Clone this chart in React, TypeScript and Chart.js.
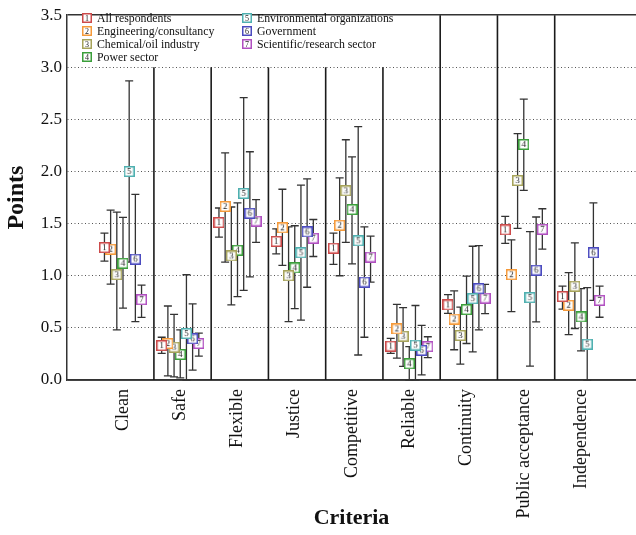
import React, { useEffect, useRef } from "react";
import { Chart, registerables } from "chart.js";

Chart.register(...registerables);

const criteria = ["Clean", "Safe", "Flexible", "Justice", "Competitive", "Reliable", "Continuity", "Public acceptance", "Independence"];
const seriesNames = ["All respondents", "Engineering/consultancy", "Chemical/oil industry", "Power sector", "Environmental organizations", "Government", "Scientific/research sector"];
const seriesColors = ["#cc4a4a", "#f59a3a", "#a6a35a", "#3a9e3a", "#4fb0b0", "#4b4bbf", "#b04fc0"];
const yTicks = [0, 0.5, 1, 1.5, 2, 2.5, 3, 3.5];

const allRespondents = [1.27, 0.33, 1.51, 1.33, 1.265, 0.325, 0.72, 1.44, 0.8];
const allRespondentsLow = [1.14, 0.255, 1.37, 1.21, 1.11, 0.255, 0.64, 1.31, 0.68];
const allRespondentsHigh = [1.41, 0.41, 1.65, 1.45, 1.41, 0.4, 0.82, 1.57, 0.9];

const engineering = [1.255, 0.35, 1.665, 1.46, 1.485, 0.49, 0.585, 1.01, 0.717];
const engineeringLow = [0.92, 0.04, 1.13, 1.1, 1.0, 0.21, 0.29, 0.656, 0.436];
const engineeringHigh = [1.63, 0.71, 2.18, 1.83, 1.94, 0.725, 0.855, 1.344, 1.03];

const chemical = [1.01, 0.315, 1.19, 1.0, 1.815, 0.42, 0.427, 1.914, 0.9];
const chemicalLow = [0.48, 0.03, 0.72, 0.56, 1.32, 0.13, 0.153, 1.455, 0.494];
const chemicalHigh = [1.61, 0.63, 1.66, 1.47, 2.305, 0.695, 0.7, 2.363, 1.315];

const power = [1.12, 0.245, 1.245, 1.075, 1.635, 0.155, 0.675, 2.26, 0.605];
const powerLow = [0.69, 0.02, 0.8, 0.685, 1.115, 0.0, 0.35, 1.82, 0.28];
const powerHigh = [1.56, 0.48, 1.7, 1.48, 2.14, 0.32, 0.997, 2.694, 0.876];

const environmental = [2.0, 0.445, 1.79, 1.22, 1.335, 0.335, 0.78, 0.79, 0.344];
const environmentalLow = [1.13, 0.0, 0.86, 0.575, 0.24, 0.0, 0.27, 0.134, 0.0];
const environmentalHigh = [2.87, 1.01, 2.71, 1.87, 2.43, 0.715, 1.283, 1.424, 0.886];

const government = [1.16, 0.395, 1.6, 1.42, 0.94, 0.285, 0.876, 1.054, 1.22];
const governmentLow = [0.56, 0.095, 0.99, 0.89, 0.41, 0.05, 0.48, 0.557, 0.764];
const governmentHigh = [1.78, 0.73, 2.19, 1.93, 1.47, 0.525, 1.29, 1.564, 1.7];

const scientific = [0.77, 0.35, 1.525, 1.36, 1.18, 0.32, 0.786, 1.446, 0.764];
const scientificLow = [0.6, 0.23, 1.32, 1.185, 0.94, 0.215, 0.637, 1.255, 0.602];
const scientificHigh = [0.91, 0.45, 1.73, 1.54, 1.38, 0.415, 0.917, 1.643, 0.901];

const means = [allRespondents, engineering, chemical, power, environmental, government, scientific];
const lows = [allRespondentsLow, engineeringLow, chemicalLow, powerLow, environmentalLow, governmentLow, scientificLow];
const highs = [allRespondentsHigh, engineeringHigh, chemicalHigh, powerHigh, environmentalHigh, governmentHigh, scientificHigh];

const FONT = '"Liberation Serif", "Times New Roman", serif';
const DODGE = 0.108;

function makeMarker(num: number, color: string, size: number, fontSize: number) {
  const c = document.createElement("canvas");
  c.width = size;
  c.height = size;
  const ctx = c.getContext("2d")!;
  ctx.fillStyle = "#ffffff";
  ctx.fillRect(0, 0, size, size);
  ctx.strokeStyle = color;
  ctx.lineWidth = 1.5;
  ctx.strokeRect(0.75, 0.75, size - 1.5, size - 1.5);
  ctx.fillStyle = "#222";
  ctx.font = `${fontSize}px ${FONT}`;
  ctx.textAlign = "center";
  ctx.textBaseline = "middle";
  ctx.fillText(String(num), size / 2, size / 2 + 0.5);
  return c;
}

export default function App() {
  const ref = useRef<HTMLCanvasElement | null>(null);

  useEffect(() => {
    document.body.style.margin = "0";
    const canvas = ref.current!;
    const markers = seriesColors.map((c, k) => makeMarker(k + 1, c, 11, 9));
    const legendIcons = seriesColors.map((c, k) => makeMarker(k + 1, c, 10, 8));

    const errorBars = {
      id: "errorBars",
      beforeDatasetsDraw(chart: any) {
        const { ctx, scales, chartArea } = chart;
        const xs = scales.x;
        const ys = scales.y;
        ctx.save();
        // category separators
        ctx.strokeStyle = "#1a1a1a";
        ctx.lineWidth = 1.6;
        for (let i = 0; i < criteria.length - 1; i++) {
          const x = xs.getPixelForValue(i + 0.54);
          const topVal = i < 5 ? 3.0 : 3.5;
          ctx.beginPath();
          ctx.moveTo(x, chartArea.bottom);
          ctx.lineTo(x, ys.getPixelForValue(topVal));
          ctx.stroke();
        }
        // error bars
        ctx.strokeStyle = "#333";
        ctx.lineWidth = 1.3;
        chart.data.datasets.forEach((_ds: any, k: number) => {
          const meta = chart.getDatasetMeta(k);
          meta.data.forEach((pt: any, i: number) => {
            const x = pt.x;
            const yl = ys.getPixelForValue(lows[k][i]);
            const yh = ys.getPixelForValue(highs[k][i]);
            ctx.beginPath();
            ctx.moveTo(x, yl);
            ctx.lineTo(x, yh);
            ctx.moveTo(x - 4, yl);
            ctx.lineTo(x + 4, yl);
            ctx.moveTo(x - 4, yh);
            ctx.lineTo(x + 4, yh);
            ctx.stroke();
          });
        });
        ctx.restore();
      },
      afterDraw(chart: any) {
        const { ctx } = chart;
        ctx.save();
        ctx.font = `11.8px ${FONT}`;
        ctx.fillStyle = "#111";
        ctx.textBaseline = "middle";
        ctx.textAlign = "left";
        seriesNames.forEach((name, k) => {
          const col = k < 4 ? 0 : 1;
          const row = k < 4 ? k : k - 4;
          const ix = col === 0 ? 87 : 247;
          const iy = 18 + row * 13;
          ctx.drawImage(legendIcons[k], ix - 5, iy - 5);
          ctx.fillText(name, ix + 10, iy + 0.5);
        });
        ctx.restore();
      },
    };

    const chart = new Chart(canvas, {
      type: "scatter",
      plugins: [errorBars as any],
      data: {
        datasets: means.map((vals, k) => ({
          label: seriesNames[k],
          data: vals.map((v, i) => ({ x: i + (k - 3) * DODGE, y: v })),
          pointStyle: markers[k] as any,
          pointRadius: 5,
          borderColor: seriesColors[k],
          backgroundColor: "#fff",
        })),
      },
      options: {
        animation: false,
        responsive: false,
        devicePixelRatio: 1,
        layout: { autoPadding: false, padding: { top: 14, left: 0, right: 0, bottom: 0 } },
        plugins: { legend: { display: false }, tooltip: { enabled: false } },
        scales: {
          x: {
            type: "linear",
            min: -0.978,
            max: 8.96,
            afterBuildTicks: (scale: any) => {
              scale.ticks = criteria.map((_, i) => ({ value: i }));
            },
            afterFit: (scale: any) => {
              scale.height = 155;
              scale.paddingLeft = 0;
              scale.paddingRight = 0;
            },
            ticks: {
              autoSkip: false,
              minRotation: 90,
              maxRotation: 90,
              padding: 9,
              color: "#111",
              font: { family: FONT, size: 18 },
              callback: (v: any) => criteria[Math.round(Number(v))] ?? "",
            },
            grid: { display: false, drawTicks: false },
            border: { display: true, color: "#333", width: 1.5 },
            title: {
              display: true,
              text: "Criteria",
              color: "#111",
              font: { family: FONT, size: 22, weight: "bold" },
              padding: { top: 0, bottom: 3 },
            },
          },
          y: {
            min: 0,
            max: 3.5,
            afterBuildTicks: (scale: any) => {
              scale.ticks = yTicks.map((v) => ({ value: v }));
            },
            afterFit: (scale: any) => {
              scale.width = 67;
            },
            ticks: {
              padding: 5,
              color: "#111",
              font: { family: FONT, size: 17 },
              callback: (v: any) => Number(v).toFixed(1),
            },
            grid: {
              drawTicks: false,
              color: (ctx: any) => (ctx.tick && ctx.tick.value === 3.5 ? "#333" : "#555"),
              lineWidth: (ctx: any) => (ctx.tick && ctx.tick.value === 3.5 ? 1.5 : 1),
            },
            border: {
              display: true,
              color: "#333",
              width: 1.5,
              dash: (ctx: any) => (ctx.tick && (ctx.tick.value === 3.5 || ctx.tick.value === 0) ? [] : [1, 2.5]),
            } as any,
            title: {
              display: true,
              text: "Points",
              color: "#111",
              font: { family: FONT, size: 24, weight: "bold" },
              padding: { top: 2, bottom: 0 },
            },
          },
        },
      },
    });
    return () => chart.destroy();
  }, []);

  return (
    <div style={{ width: 636, height: 535, background: "#fff" }}>
      <canvas ref={ref} width={636} height={535} style={{ display: "block" }} />
    </div>
  );
}
